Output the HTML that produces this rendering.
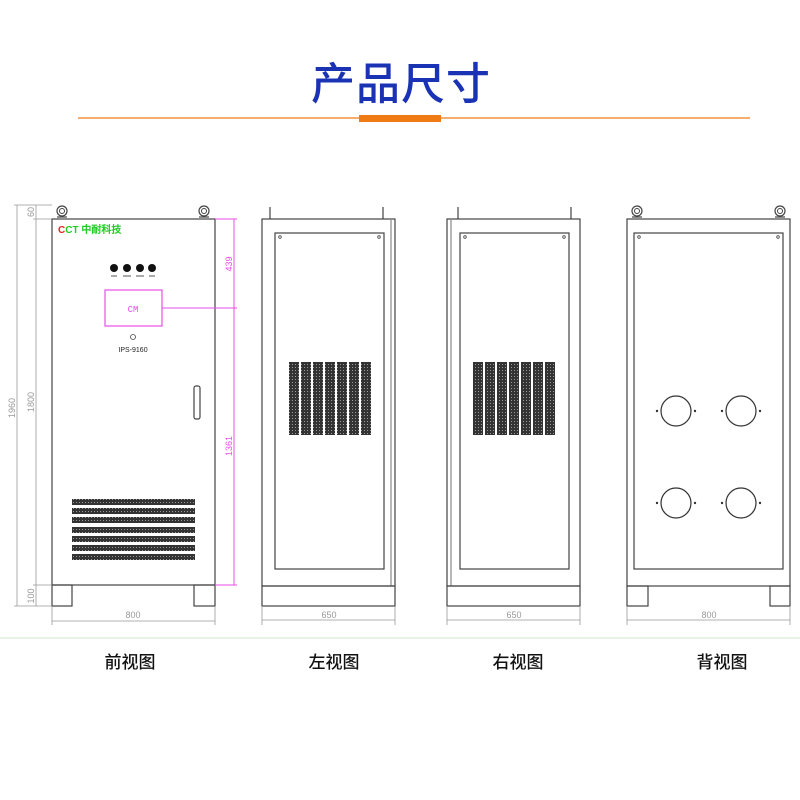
<!DOCTYPE html>
<html><head><meta charset="utf-8"><style>
html,body{margin:0;padding:0;background:#fff;width:800px;height:800px;overflow:hidden}
svg{display:block}
</style></head><body>
<svg width="800" height="800" viewBox="0 0 800 800" xmlns="http://www.w3.org/2000/svg">
<defs>
<pattern id="grill" width="3" height="3" patternUnits="userSpaceOnUse">
<rect width="3" height="3" fill="#333"/><rect x="1" y="1" width="1" height="1" fill="#999"/>
</pattern>
<g id="eye"><circle r="5" fill="#fff" stroke="#444" stroke-width="1.2"/><circle r="2.5" fill="none" stroke="#444" stroke-width="1"/><path d="M-5 6 L5 6" stroke="#444" stroke-width="1.2"/></g>
<g id="hole"><circle r="15" fill="none" stroke="#333" stroke-width="1.2"/><circle cx="-19" r="1.2" fill="#333"/><circle cx="19" r="1.2" fill="#333"/></g>
</defs>
<text x="401" y="99" text-anchor="middle" font-family="'Noto Sans CJK SC',sans-serif" font-size="44" fill="#1a33b5" font-weight="500" letter-spacing="1">产品尺寸</text>
<line x1="78" y1="118" x2="750" y2="118" stroke="#f07a14" stroke-width="1.2"/>
<rect x="359" y="115" width="82" height="7" fill="#f07a14"/>
<line x1="0" y1="638" x2="800" y2="638" stroke="#dff0dc" stroke-width="1.5"/>

<g fill="none" stroke="#444" stroke-width="1.2">
<rect x="52" y="219" width="163" height="366"/>
<rect x="52" y="585" width="20" height="21"/>
<rect x="194" y="585" width="21" height="21"/>
<rect x="105" y="290" width="57" height="36" stroke="#e84de8"/>
<rect x="194" y="386" width="6" height="33" rx="2"/>
<rect x="262" y="219" width="133" height="367"/>
<line x1="391" y1="219" x2="391" y2="586" stroke="#888"/>
<rect x="275" y="233" width="109" height="336"/>
<rect x="262" y="586" width="133" height="20"/>
<line x1="270" y1="207" x2="270" y2="219"/><line x1="383" y1="207" x2="383" y2="219"/>
<rect x="447" y="219" width="133" height="367"/>
<line x1="451" y1="219" x2="451" y2="586" stroke="#888"/>
<rect x="460" y="233" width="109" height="336"/>
<rect x="447" y="586" width="133" height="20"/>
<line x1="458" y1="207" x2="458" y2="219"/><line x1="571" y1="207" x2="571" y2="219"/>
<rect x="627" y="219" width="163" height="367"/>
<rect x="634" y="233" width="149" height="336"/>
<rect x="627" y="586" width="21" height="20"/>
<rect x="770" y="586" width="20" height="20"/>
</g>
<use href="#eye" x="62" y="211"/><use href="#eye" x="204" y="211"/>
<use href="#eye" x="637" y="211"/><use href="#eye" x="780" y="211"/>
<g fill="none" stroke="#444" stroke-width="0.8">
<circle cx="280" cy="237" r="1.3"/><circle cx="379" cy="237" r="1.3"/>
<circle cx="465" cy="237" r="1.3"/><circle cx="564" cy="237" r="1.3"/>
<circle cx="639" cy="237" r="1.3"/><circle cx="778" cy="237" r="1.3"/>
<circle cx="133" cy="337" r="2.5"/>
</g>
<use href="#hole" x="676" y="411"/><use href="#hole" x="741" y="411"/>
<use href="#hole" x="676" y="503"/><use href="#hole" x="741" y="503"/>

<text x="58" y="233" font-family="'Liberation Sans',sans-serif" font-size="10" font-weight="bold" fill="#22cc22"><tspan fill="#e22">C</tspan>CT 中耐科技</text>
<g fill="#111"><circle cx="114" cy="268" r="4"/><circle cx="127" cy="268" r="4"/><circle cx="140" cy="268" r="4"/><circle cx="152" cy="268" r="4"/></g>
<g stroke="#555" stroke-width="1"><line x1="111" y1="276" x2="117" y2="276"/><line x1="123" y1="276" x2="131" y2="276"/><line x1="136" y1="276" x2="144" y2="276"/><line x1="149" y1="276" x2="155" y2="276"/></g>
<text x="133" y="312" text-anchor="middle" font-family="'Liberation Mono',monospace" font-size="9" fill="#e84de8">CM</text>
<text x="133" y="352" text-anchor="middle" font-family="'Liberation Sans',sans-serif" font-size="7" fill="#222">IPS-9160</text>
<g fill="url(#grill)">
<rect x="72" y="499" width="123" height="6"/><rect x="72" y="508" width="123" height="6"/>
<rect x="72" y="517" width="123" height="6"/><rect x="72" y="527" width="123" height="6"/>
<rect x="72" y="536" width="123" height="6"/><rect x="72" y="545" width="123" height="6"/>
<rect x="72" y="554" width="123" height="6"/>
</g>
<g fill="url(#grill)">
<rect x="289" y="362" width="10" height="73"/><rect x="301" y="362" width="10" height="73"/><rect x="313" y="362" width="10" height="73"/><rect x="325" y="362" width="10" height="73"/><rect x="337" y="362" width="10" height="73"/><rect x="349" y="362" width="10" height="73"/><rect x="361" y="362" width="10" height="73"/>
<rect x="473" y="362" width="10" height="73"/><rect x="485" y="362" width="10" height="73"/><rect x="497" y="362" width="10" height="73"/><rect x="509" y="362" width="10" height="73"/><rect x="521" y="362" width="10" height="73"/><rect x="533" y="362" width="10" height="73"/><rect x="545" y="362" width="10" height="73"/>
</g>

<g stroke="#999" stroke-width="0.8" fill="none">
<line x1="17" y1="205" x2="17" y2="606"/><line x1="36" y1="205" x2="36" y2="606"/>
<line x1="14" y1="205" x2="52" y2="205"/><line x1="14" y1="606" x2="52" y2="606"/>
<line x1="33" y1="219" x2="52" y2="219"/><line x1="33" y1="585" x2="52" y2="585"/>
<line x1="52" y1="606" x2="52" y2="625"/><line x1="215" y1="606" x2="215" y2="625"/><line x1="52" y1="621" x2="215" y2="621"/>
<line x1="262" y1="606" x2="262" y2="625"/><line x1="395" y1="606" x2="395" y2="625"/><line x1="262" y1="620" x2="395" y2="620"/>
<line x1="447" y1="606" x2="447" y2="625"/><line x1="580" y1="606" x2="580" y2="625"/><line x1="447" y1="620" x2="580" y2="620"/>
<line x1="627" y1="606" x2="627" y2="625"/><line x1="790" y1="606" x2="790" y2="625"/><line x1="627" y1="620" x2="790" y2="620"/>
</g>
<g stroke="#e84de8" stroke-width="1" fill="none">
<line x1="234" y1="219" x2="234" y2="585"/><line x1="215" y1="219" x2="237" y2="219"/><line x1="162" y1="308" x2="237" y2="308"/><line x1="215" y1="585" x2="237" y2="585"/>
</g>
<g font-family="'Liberation Sans',sans-serif" font-size="9" fill="#999" text-anchor="middle">
<text transform="translate(15,408) rotate(-90)">1960</text>
<text transform="translate(34,402) rotate(-90)">1800</text>
<text transform="translate(34,212) rotate(-90)">60</text>
<text transform="translate(34,596) rotate(-90)">100</text>
<text x="133" y="618">800</text>
<text x="329" y="618">650</text>
<text x="514" y="618">650</text>
<text x="709" y="618">800</text>
<text transform="translate(232,264) rotate(-90)" fill="#e84de8">439</text>
<text transform="translate(232,446) rotate(-90)" fill="#e84de8">1361</text>
</g>
<g font-family="'Noto Sans CJK SC',sans-serif" font-size="17" fill="#111" text-anchor="middle" font-weight="500">
<text x="130" y="668">前视图</text>
<text x="334" y="668">左视图</text>
<text x="518" y="668">右视图</text>
<text x="722" y="668">背视图</text>
</g>
</svg>
</body></html>
